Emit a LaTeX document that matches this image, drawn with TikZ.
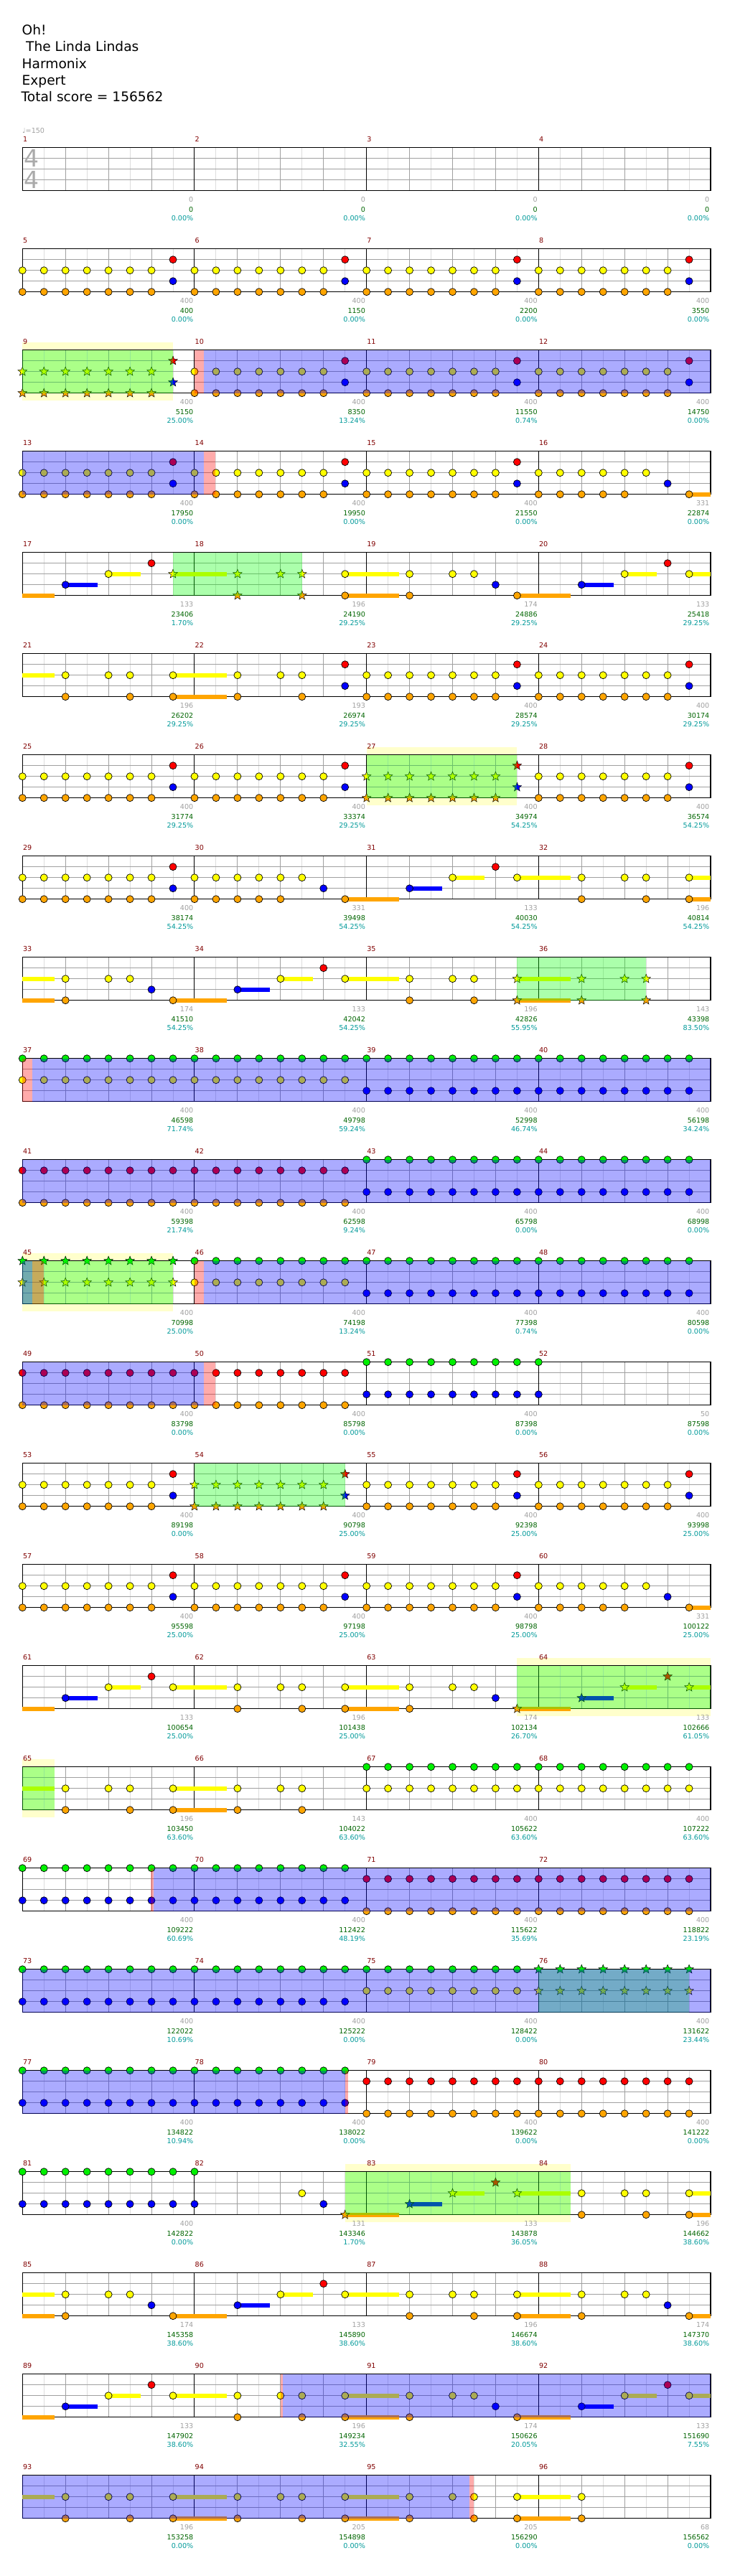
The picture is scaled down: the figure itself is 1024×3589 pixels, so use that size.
\documentclass[tikz,border=0pt]{standalone}
\usepackage{fontspec}
\setmainfont{DejaVu Sans}
\usetikzlibrary{shapes.geometric}

\definecolor{cG}{RGB}{0,240,0}
\definecolor{cR}{RGB}{255,0,0}
\definecolor{cY}{RGB}{255,255,0}
\definecolor{cB}{RGB}{0,0,255}
\definecolor{cO}{RGB}{255,165,0}
\definecolor{spyellow}{RGB}{255,255,204}
\definecolor{numred}{RGB}{128,0,0}
\definecolor{ptgrey}{RGB}{160,160,160}
\definecolor{totgreen}{RGB}{0,100,0}
\definecolor{pctteal}{RGB}{0,153,153}
\definecolor{eighthgrey}{RGB}{221,221,221}
\definecolor{beatgrey}{RGB}{160,160,160}
\definecolor{tsgrey}{RGB}{170,170,170}

\def\lyG{0}\def\lyR{15}\def\lyY{30}\def\lyB{45}\def\lyO{60}
\newcommand{\setrow}[1]{\pgfmathsetmacro{\rowtop}{205.7+141*(#1-1)}}
\newcommand{\nts}[2]{\pgfmathsetmacro{\yy}{\rowtop+\csname ly#1\endcsname}%
  \foreach \q in {#2}{\draw[note, fill=c#1] ({31.3+29.96*\q},\yy) circle (5pt);}}
\newcommand{\sts}[2]{\pgfmathsetmacro{\yy}{\rowtop+\csname ly#1\endcsname}%
  \foreach \q in {#2}{\node[starnote, fill=c#1] (s#1\q) at ({31.3+29.96*\q},\yy) {};}}
\newcommand{\sus}[3]{\pgfmathsetmacro{\yy}{\rowtop+\csname ly#1\endcsname}%
  \fill[c#1] ({31.3+29.96*(#2)},{\yy-3}) rectangle ({31.3+29.96*(#3)},{\yy+3});}
\newcommand{\ov}[3]{\fill[#1, fill opacity=0.33] ({31.3+29.96*(#2)},\rowtop) rectangle ({31.3+29.96*(#3)},{\rowtop+60});}
\newcommand{\spz}[2]{\fill[spyellow] ({31.3+29.96*(#1)},{\rowtop-10.7}) rectangle ({31.3+29.96*(#2)},{\rowtop+70.7});}
\newcommand{\staff}[2]{%
  \foreach \q in {1,3,...,31} \draw[eighth] ({31.3+29.96*\q},\rowtop) -- ++(0,60);
  \foreach \q in {2,4,6,10,12,14,18,20,22,26,28,30} \draw[beat] ({31.3+29.96*\q},\rowtop) -- ++(0,60);
  \foreach \dd in {15,30,45} \draw[lane] (31.3,{\rowtop+\dd}) -- (990,{\rowtop+\dd});
  \foreach \q in {8,16,24} \draw[bar] ({31.3+29.96*\q},\rowtop) -- ++(0,60);
  \draw[border] (31.3,\rowtop) rectangle (990,{\rowtop+60});
  \foreach \gp/\tp/\pp [count=\i from 0] in {#2}{%
    \pgfmathtruncatemacro{\mn}{4*(#1-1)+\i+1}%
    \pgfmathsetmacro{\xl}{31.3+239.68*\i}%
    \pgfmathsetmacro{\xr}{\xl+239.68-1.5}%
    \node[small, numred, anchor=base west] (num\mn) at ({\xl+0.5},{\rowtop-8}) {\mn};
    \node[small, ptgrey, anchor=base east] (pts\mn) at (\xr,{\rowtop+76}) {\gp};
    \node[small, totgreen, anchor=base east] (tot\mn) at (\xr,{\rowtop+89.7}) {\tp};
    \node[small, pctteal, anchor=base east] (pct\mn) at (\xr,{\rowtop+102}) {\pp};
  }}

\begin{document}
\begin{tikzpicture}[x=1pt, y=-1pt,
  note/.style={draw=black, line width=0.7pt},
  starnote/.style={star, star points=5, star point ratio=2.3, minimum size=13pt, inner sep=0pt, draw=black, line width=0.5pt},
  eighth/.style={eighthgrey, line width=1pt},
  beat/.style={beatgrey, line width=1pt},
  lane/.style={beatgrey, line width=1pt},
  bar/.style={black, line width=1pt},
  border/.style={black, line width=1.3pt},
  small/.style={font=\fontsize{9.6}{11}\selectfont, inner sep=0pt},
  titletext/.style={font=\fontsize{18.6}{22}\selectfont, inner sep=0pt, anchor=base west},
  timesig/.style={font=\fontsize{33}{33}\selectfont, text=tsgrey, inner sep=0pt}]
  \useasboundingbox (0,0) rectangle (1024,3589);

  \node[titletext] (song) at (30.5,49) {Oh!};
  \node[titletext] (artist) at (36,72) {The Linda Lindas};
  \node[titletext] (charter) at (30.5,95.5) {Harmonix};
  \node[titletext] (level) at (30.5,118.5) {Expert};
  \node[titletext] (total) at (29.5,141.5) {Total score = 156562};
  \node[small, ptgrey, anchor=base west] (tempo) at (31,185) {♩=150};

  % row 1
  \setrow{1}
  \staff{1}{0/0/0.00\%, 0/0/0.00\%, 0/0/0.00\%, 0/0/0.00\%}
  \node[timesig] (tstop) at (43.7,{\rowtop+14.6}) {4};
  \node[timesig] (tsbot) at (43.7,{\rowtop+44.6}) {4};

  % row 2
  \setrow{2}
  \staff{2}{400/400/0.00\%, 400/1150/0.00\%, 400/2200/0.00\%, 400/3550/0.00\%}
  \nts{Y}{0,...,6}\nts{Y}{8,...,14}\nts{Y}{16,...,22}\nts{Y}{24,...,30}
  \nts{O}{0,...,6}\nts{O}{8,...,14}\nts{O}{16,...,22}\nts{O}{24,...,30}
  \nts{R}{7,15,23,31}\nts{B}{7,15,23,31}

  % row 3
  \setrow{3}
  \spz{0}{7}
  \staff{3}{400/5150/25.00\%, 400/8350/13.24\%, 400/11550/0.74\%, 400/14750/0.00\%}
  \sts{Y}{0,...,6}\sts{O}{0,...,6}\sts{R}{7}\sts{B}{7}
  \nts{Y}{8,...,14}\nts{Y}{16,...,22}\nts{Y}{24,...,30}
  \nts{O}{8,...,14}\nts{O}{16,...,22}\nts{O}{24,...,30}
  \nts{R}{15,23,31}\nts{B}{15,23,31}
  \ov{green}{0}{7}\ov{red}{8}{8.45}\ov{blue}{8.45}{32}

  % row 4
  \setrow{4}
  \staff{4}{400/17950/0.00\%, 400/19950/0.00\%, 400/21550/0.00\%, 331/22874/0.00\%}
  \sus{O}{31}{32}
  \nts{Y}{0,...,6}\nts{Y}{8,...,14}\nts{Y}{16,...,22}\nts{Y}{24,...,29}
  \nts{O}{0,...,6}\nts{O}{8,...,14}\nts{O}{16,...,22}\nts{O}{24,...,28}\nts{O}{31}
  \nts{R}{7,15,23}\nts{B}{7,15,23,30}
  \ov{blue}{0}{8.45}\ov{red}{8.45}{8.97}

  % row 5
  \setrow{5}
  \staff{5}{133/23406/1.70\%, 196/24190/29.25\%, 174/24886/29.25\%, 133/25418/29.25\%}
  \sus{O}{0}{1.5}\sus{B}{2}{3.5}\sus{Y}{4}{5.5}\sus{Y}{7}{9.5}\sus{Y}{15}{17.5}\sus{O}{15}{17.5}
  \sus{O}{23}{25.5}\sus{B}{26}{27.5}\sus{Y}{28}{29.5}\sus{Y}{31}{32}
  \nts{B}{2,22,26}\nts{Y}{4,15,18,20,21,28,31}\nts{R}{6,30}\nts{O}{15,18,23}
  \sts{Y}{7,10,12,13}\sts{O}{10,13}
  \ov{green}{7}{13}

  % row 6
  \setrow{6}
  \staff{6}{196/26202/29.25\%, 193/26974/29.25\%, 400/28574/29.25\%, 400/30174/29.25\%}
  \sus{Y}{0}{1.5}\sus{Y}{7}{9.5}\sus{O}{7}{9.5}
  \nts{Y}{2,4,5,7,10,12,13}\nts{O}{2,5,7,10,13}
  \nts{Y}{16,...,22}\nts{Y}{24,...,30}\nts{O}{16,...,22}\nts{O}{24,...,30}
  \nts{R}{15,23,31}\nts{B}{15,23,31}

  % row 7
  \setrow{7}
  \spz{16}{23}
  \staff{7}{400/31774/29.25\%, 400/33374/29.25\%, 400/34974/54.25\%, 400/36574/54.25\%}
  \nts{Y}{0,...,6}\nts{Y}{8,...,14}\nts{Y}{24,...,30}
  \nts{O}{0,...,6}\nts{O}{8,...,14}\nts{O}{24,...,30}
  \nts{R}{7,15,31}\nts{B}{7,15,31}
  \sts{Y}{16,...,22}\sts{O}{16,...,22}\sts{R}{23}\sts{B}{23}
  \ov{green}{16}{23}

  % row 8
  \setrow{8}
  \staff{8}{400/38174/54.25\%, 331/39498/54.25\%, 133/40030/54.25\%, 196/40814/54.25\%}
  \sus{O}{15}{17.5}\sus{B}{18}{19.5}\sus{Y}{20}{21.5}\sus{Y}{23}{25.5}\sus{Y}{31}{32}\sus{O}{31}{32}
  \nts{Y}{0,...,6}\nts{Y}{8,...,13}\nts{Y}{20,23,26,28,29,31}
  \nts{O}{0,...,6}\nts{O}{8,...,12}\nts{O}{15,26,29,31}
  \nts{R}{7,22}\nts{B}{7,14,18}

  % row 9
  \setrow{9}
  \staff{9}{174/41510/54.25\%, 133/42042/54.25\%, 196/42826/55.95\%, 143/43398/83.50\%}
  \sus{Y}{0}{1.5}\sus{O}{0}{1.5}\sus{O}{7}{9.5}\sus{B}{10}{11.5}\sus{Y}{12}{13.5}\sus{Y}{15}{17.5}
  \sus{Y}{23}{25.5}\sus{O}{23}{25.5}
  \nts{Y}{2,4,5,12,15,18,20,21}\nts{O}{2,7,18,21}\nts{B}{6,10}\nts{R}{14}
  \sts{Y}{23,26,28,29}\sts{O}{23,26,29}
  \ov{green}{23}{29}

  % row 10
  \setrow{10}
  \staff{10}{400/46598/71.74\%, 400/49798/59.24\%, 400/52998/46.74\%, 400/56198/34.24\%}
  \nts{G}{0,...,31}\nts{Y}{0,...,15}\nts{B}{16,...,31}
  \ov{red}{0}{0.46}\ov{blue}{0.46}{32}

  % row 11
  \setrow{11}
  \staff{11}{400/59398/21.74\%, 400/62598/9.24\%, 400/65798/0.00\%, 400/68998/0.00\%}
  \nts{R}{0,...,15}\nts{O}{0,...,15}\nts{G}{16,...,31}\nts{B}{16,...,31}
  \ov{blue}{0}{32}

  % row 12
  \setrow{12}
  \spz{0}{7}
  \staff{12}{400/70998/25.00\%, 400/74198/13.24\%, 400/77398/0.74\%, 400/80598/0.00\%}
  \sts{G}{0,...,7}\sts{Y}{0,...,7}
  \nts{G}{8,...,31}\nts{Y}{8,...,15}\nts{B}{16,...,31}
  \ov{green}{0}{7}\ov{red}{0.46}{1}\ov{red}{8}{8.45}\ov{blue}{0}{0.46}\ov{blue}{8.45}{32}

  % row 13
  \setrow{13}
  \staff{13}{400/83798/0.00\%, 400/85798/0.00\%, 400/87398/0.00\%, 50/87598/0.00\%}
  \nts{R}{0,...,15}\nts{O}{0,...,15}\nts{G}{16,...,24}\nts{B}{16,...,24}
  \ov{blue}{0}{8.45}\ov{red}{8.45}{8.97}

  % row 14
  \setrow{14}
  \staff{14}{400/89198/0.00\%, 400/90798/25.00\%, 400/92398/25.00\%, 400/93998/25.00\%}
  \nts{Y}{0,...,6}\nts{Y}{16,...,22}\nts{Y}{24,...,30}
  \nts{O}{0,...,6}\nts{O}{16,...,22}\nts{O}{24,...,30}
  \nts{R}{7,23,31}\nts{B}{7,23,31}
  \sts{Y}{8,...,14}\sts{O}{8,...,14}\sts{R}{15}\sts{B}{15}
  \ov{green}{8}{15}

  % row 15
  \setrow{15}
  \staff{15}{400/95598/25.00\%, 400/97198/25.00\%, 400/98798/25.00\%, 331/100122/25.00\%}
  \sus{O}{31}{32}
  \nts{Y}{0,...,6}\nts{Y}{8,...,14}\nts{Y}{16,...,22}\nts{Y}{24,...,29}
  \nts{O}{0,...,6}\nts{O}{8,...,14}\nts{O}{16,...,22}\nts{O}{24,...,28}\nts{O}{31}
  \nts{R}{7,15,23}\nts{B}{7,15,23,30}

  % row 16
  \setrow{16}
  \spz{23}{32}
  \staff{16}{133/100654/25.00\%, 196/101438/25.00\%, 174/102134/26.70\%, 133/102666/61.05\%}
  \sus{O}{0}{1.5}\sus{B}{2}{3.5}\sus{Y}{4}{5.5}\sus{Y}{7}{9.5}\sus{Y}{15}{17.5}\sus{O}{15}{17.5}
  \sus{O}{23}{25.5}\sus{B}{26}{27.5}\sus{Y}{28}{29.5}\sus{Y}{31}{32}
  \nts{B}{2,22}\nts{Y}{4,7,10,12,13,15,18,20,21}\nts{R}{6}\nts{O}{10,13,15,18}
  \sts{O}{23}\sts{B}{26}\sts{Y}{28,31}\sts{R}{30}
  \ov{green}{23}{32}

  % row 17
  \setrow{17}
  \spz{0}{1.5}
  \staff{17}{196/103450/63.60\%, 143/104022/63.60\%, 400/105622/63.60\%, 400/107222/63.60\%}
  \sus{Y}{0}{1.5}\sus{Y}{7}{9.5}\sus{O}{7}{9.5}
  \nts{Y}{2,4,5,7,10,12,13}\nts{O}{2,5,7,10,13}
  \nts{G}{16,...,31}\nts{Y}{16,...,31}
  \ov{green}{0}{1.5}

  % row 18
  \setrow{18}
  \staff{18}{400/109222/60.69\%, 400/112422/48.19\%, 400/115622/35.69\%, 400/118822/23.19\%}
  \nts{G}{0,...,15}\nts{B}{0,...,15}\nts{R}{16,...,31}\nts{O}{16,...,31}
  \ov{red}{5.95}{6.1}\ov{blue}{6.1}{32}

  % row 19
  \setrow{19}
  \staff{19}{400/122022/10.69\%, 400/125222/0.00\%, 400/128422/0.00\%, 400/131622/23.44\%}
  \nts{G}{0,...,23}\nts{B}{0,...,15}\nts{Y}{16,...,23}
  \sts{G}{24,...,31}\sts{Y}{24,...,31}
  \ov{green}{24}{31}\ov{blue}{0}{32}

  % row 20
  \setrow{20}
  \staff{20}{400/134822/10.94\%, 400/138022/0.00\%, 400/139622/0.00\%, 400/141222/0.00\%}
  \nts{G}{0,...,15}\nts{B}{0,...,15}\nts{R}{16,...,31}\nts{O}{16,...,31}
  \ov{blue}{0}{15}\ov{red}{15}{15.15}

  % row 21
  \setrow{21}
  \spz{15}{25.5}
  \staff{21}{400/142822/0.00\%, 131/143346/1.70\%, 133/143878/36.05\%, 196/144662/38.60\%}
  \sus{O}{15}{17.5}\sus{B}{18}{19.5}\sus{Y}{20}{21.5}\sus{Y}{23}{25.5}\sus{Y}{31}{32}\sus{O}{31}{32}
  \nts{G}{0,...,8}\nts{B}{0,...,8}\nts{Y}{13,26,28,29,31}\nts{B}{14}\nts{O}{26,29,31}
  \sts{O}{15}\sts{B}{18}\sts{Y}{20,23}\sts{R}{22}
  \ov{green}{15}{25.5}

  % row 22
  \setrow{22}
  \staff{22}{174/145358/38.60\%, 133/145890/38.60\%, 196/146674/38.60\%, 174/147370/38.60\%}
  \sus{Y}{0}{1.5}\sus{O}{0}{1.5}\sus{O}{7}{9.5}\sus{B}{10}{11.5}\sus{Y}{12}{13.5}\sus{Y}{15}{17.5}
  \sus{Y}{23}{25.5}\sus{O}{23}{25.5}\sus{O}{31}{32}
  \nts{Y}{2,4,5,12,15,18,20,21,23,26,28,29}\nts{O}{2,7,18,21,23,26,31}\nts{B}{6,10,30}\nts{R}{14}

  % row 23
  \setrow{23}
  \staff{23}{133/147902/38.60\%, 196/149234/32.55\%, 174/150626/20.05\%, 133/151690/7.55\%}
  \sus{O}{0}{1.5}\sus{B}{2}{3.5}\sus{Y}{4}{5.5}\sus{Y}{7}{9.5}\sus{Y}{15}{17.5}\sus{O}{15}{17.5}
  \sus{O}{23}{25.5}\sus{B}{26}{27.5}\sus{Y}{28}{29.5}\sus{Y}{31}{32}
  \nts{B}{2,22,26}\nts{Y}{4,7,10,12,13,15,18,20,21,28,31}\nts{R}{6,30}\nts{O}{10,13,15,18,23}
  \ov{red}{12}{12.12}\ov{blue}{12.12}{32}

  % row 24
  \setrow{24}
  \staff{24}{196/153258/0.00\%, 205/154898/0.00\%, 205/156290/0.00\%, 68/156562/0.00\%}
  \sus{Y}{0}{1.5}\sus{Y}{7}{9.5}\sus{O}{7}{9.5}\sus{Y}{15}{17.5}\sus{O}{15}{17.5}\sus{Y}{23}{25.5}\sus{O}{23}{25.5}
  \nts{Y}{2,4,5,7,10,12,13,15,18,20,21,23,26}\nts{O}{2,5,7,10,13,15,18,21,23,26}
  \ov{blue}{0}{20.8}\ov{red}{20.8}{21}
\end{tikzpicture}
\end{document}
